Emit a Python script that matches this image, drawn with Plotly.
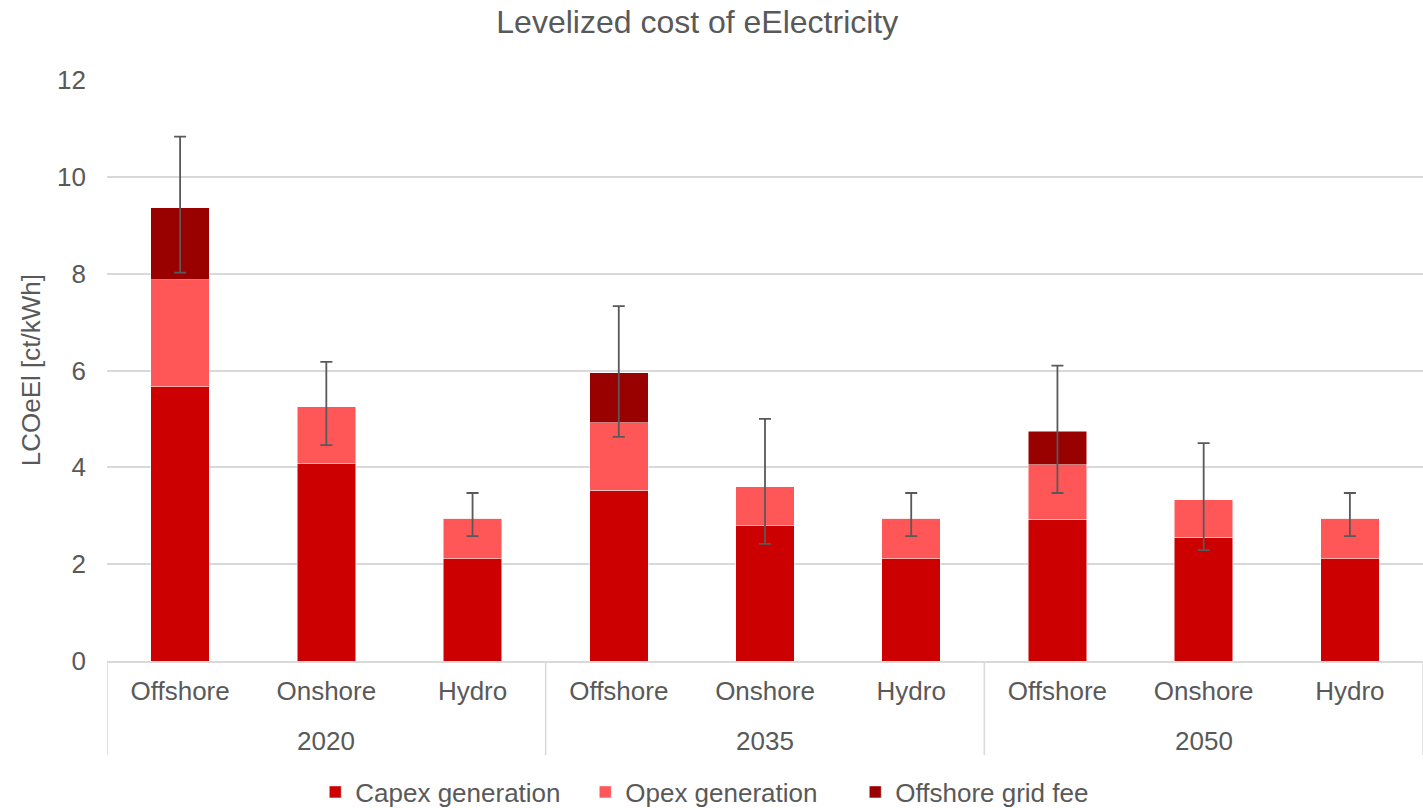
import plotly.graph_objects as go

years = ["2020", "2020", "2020", "2035", "2035", "2035", "2050", "2050", "2050"]
techs = ["Offshore", "Onshore", "Hydro"] * 3

capex = [5.66, 4.07, 2.11, 3.53, 2.79, 2.11, 2.93, 2.56, 2.11]
opex = [2.21, 1.18, 0.84, 1.39, 0.81, 0.84, 1.12, 0.77, 0.84]
grid_fee = [1.49, 0, 0, 1.03, 0, 0, 0.70, 0, 0]
err_high = [10.83, 6.18, 3.47, 7.33, 5.00, 3.47, 6.10, 4.50, 3.47]
err_low = [8.02, 4.46, 2.58, 4.63, 2.42, 2.58, 3.47, 2.29, 2.58]

totals = [c + o + g for c, o, g in zip(capex, opex, grid_fee)]
cats = [f"{t} {y}" for y, t in zip(years, techs)]
groups = list(dict.fromkeys(years))
per_group = len(cats) // len(groups)

font = "Liberation Sans, Arial, sans-serif"
grey = "#595959"
line_grey = "#D9D9D9"

fig = go.Figure()
fig.add_bar(x=cats, y=capex, name="Capex generation", marker=dict(color="#CC0000", line=dict(color="#FFFFFF", width=0.5)))
fig.add_bar(x=cats, y=opex, name="Opex generation", marker=dict(color="#FF5757", line=dict(color="#FFFFFF", width=0.5)))
fig.add_bar(x=cats, y=grid_fee, name="Offshore grid fee", marker=dict(color="#990000", line=dict(color="#FFFFFF", width=0.5)))
fig.add_scatter(
    x=cats, y=totals, mode="markers", marker=dict(size=0.1, opacity=0), showlegend=False, hoverinfo="skip",
    error_y=dict(type="data", symmetric=False,
                 array=[h - t for h, t in zip(err_high, totals)],
                 arrayminus=[t - l for l, t in zip(err_low, totals)],
                 color=grey, thickness=1.8, width=6),
)

annotations = [dict(text="LCOeEl [ct/kWh]", xref="paper", yref="paper", x=-0.058, y=0.5,
                    textangle=-90, showarrow=False, font=dict(size=26, color=grey),
                    xanchor="center", yanchor="middle")]
for gi, g in enumerate(groups):
    mid = cats[gi * per_group + per_group // 2]
    annotations.append(dict(text=g, x=mid, xref="x", y=-0.1377, yref="paper", showarrow=False,
                            xanchor="center", yanchor="middle", font=dict(size=26, color=grey)))

shapes = []
for k in range(len(groups) + 1):
    xb = k * per_group - 0.5
    shapes.append(dict(type="line", xref="x", yref="paper", x0=xb, x1=xb, y0=0, y1=-0.162,
                       line=dict(color=line_grey, width=1.5)))

fig.update_layout(
    barmode="stack",
    bargap=0.6,
    width=1423, height=808,
    margin=dict(l=107, r=0, t=80, b=147, autoexpand=False),
    plot_bgcolor="white", paper_bgcolor="white",
    font=dict(family=font, color=grey, size=26),
    title=dict(text="Levelized cost of eElectricity", x=0.49, xanchor="center", y=0.973, yanchor="middle",
               font=dict(size=32, color=grey)),
    legend=dict(orientation="h", x=0.466, xanchor="center", y=-0.2255, yanchor="middle",
                font=dict(size=26, color=grey), traceorder="normal", entrywidth=225, entrywidthmode="pixels"),
    showlegend=True,
    annotations=annotations,
    shapes=shapes,
)
fig.update_yaxes(range=[0, 12], dtick=2, gridcolor=line_grey, gridwidth=1.5, zeroline=False,
                 automargin=False, tickfont=dict(size=26, color=grey), ticklen=0, ticks="",
                 ticklabelstandoff=20)
fig.update_xaxes(type="category", tickvals=cats, ticktext=techs, showline=True, linecolor=line_grey,
                 linewidth=1.5, automargin=False, ticks="", ticklabelstandoff=6,
                 range=[-0.5, len(cats) - 0.5], tickfont=dict(size=26, color=grey))

fig.write_html(
    "out.html",
    config={"displayModeBar": False},
    post_script=("document.documentElement.style.margin='0px';document.body.style.margin='0px';"
                 "document.documentElement.style.overflow='hidden';document.body.style.overflow='hidden';"),
)
